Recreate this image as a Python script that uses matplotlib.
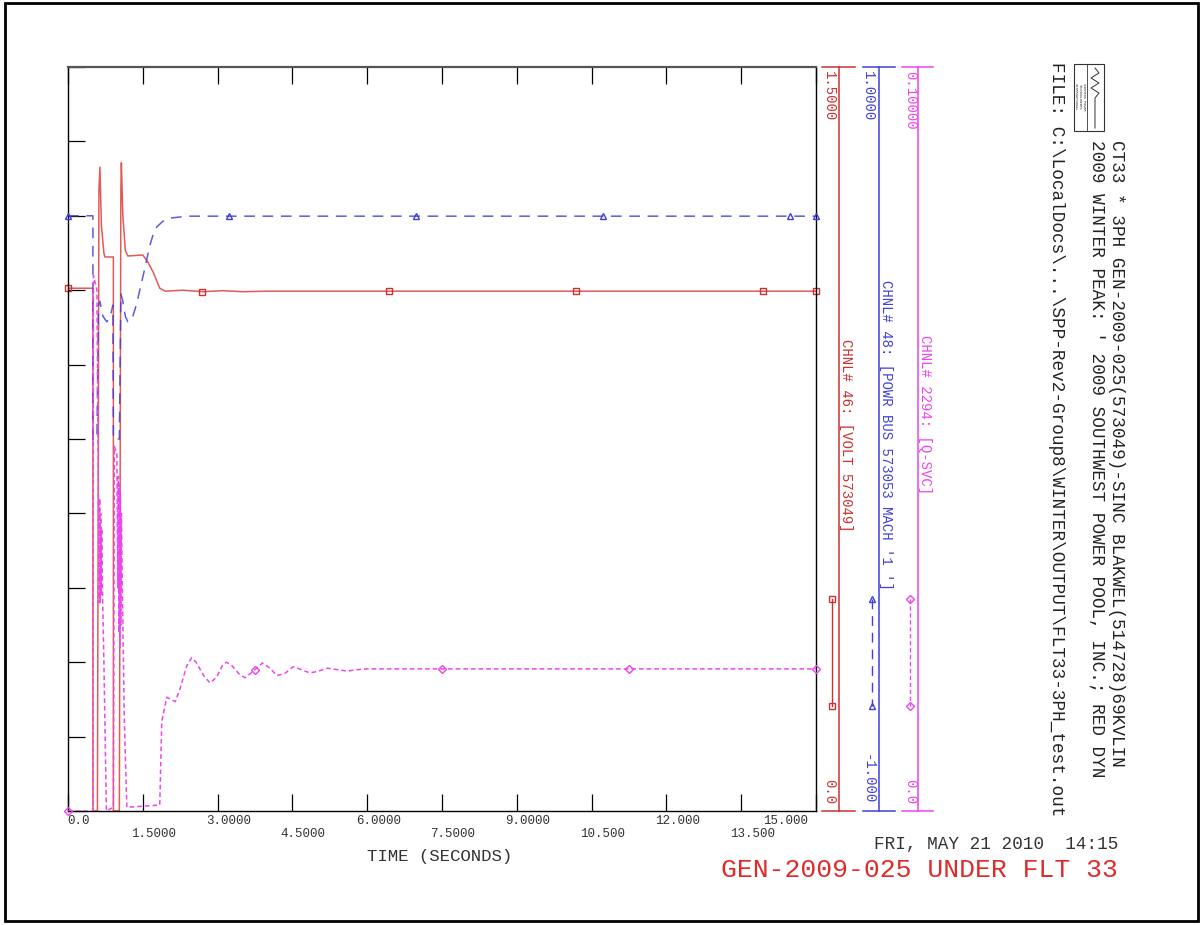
import numpy as np
import matplotlib
matplotlib.use("Agg")
import matplotlib.pyplot as plt
from matplotlib.patches import Rectangle
from matplotlib import transforms

plt.rcParams["font.family"] = ["Liberation Mono", "DejaVu Sans Mono"]

W, H = 1202, 925

# time axis (seconds)
x_ticks = [0, 1.5, 3, 4.5, 6, 7.5, 9, 10.5, 12, 13.5, 15]
x_tick_labels = ["0.0", "1.5000", "3.0000", "4.5000", "6.0000", "7.5000",
                 "9.0000", "10.500", "12.000", "13.500", "15.000"]

# CHNL# 46: [VOLT 573049]   scale 0.0 .. 1.5
volt_t = [0, 0.5, 0.5, 0.59, 0.62, 0.64, 0.67, 0.72, 0.74, 0.91, 0.91, 1.03,
          1.06, 1.07, 1.10, 1.15, 1.2, 1.5, 1.6, 1.71, 1.84, 1.95, 2.3, 2.7,
          3.1, 3.5, 4.0, 15]
volt_v = [1.054, 1.054, 0.0, 0.0, 1.25, 1.298, 1.18, 1.125, 1.117, 1.117, 0.0,
          0.0, 1.25, 1.307, 1.20, 1.13, 1.119, 1.121, 1.107, 1.086, 1.054,
          1.048, 1.050, 1.047, 1.049, 1.047, 1.048, 1.048]
volt_marks = [0, 2.69, 6.44, 10.19, 13.94, 15]

# CHNL# 48: [POWR BUS 573053 MACH '1 ']   scale -1.0 .. 1.0
powr_t = [0, 0.5, 0.5, 0.58, 0.61, 0.64, 0.70, 0.78, 0.85, 0.9, 0.91, 1.03,
          1.06, 1.1, 1.15, 1.2, 1.25, 1.3, 1.37, 1.44, 1.56, 1.64, 1.72, 1.78,
          1.9, 2.05, 2.4, 15]
powr_v = [0.60, 0.60, 0.0, 0.0, 0.36, 0.37, 0.33, 0.315, 0.33, 0.36, 0.0, 0.0,
          0.39, 0.37, 0.33, 0.315, 0.318, 0.33, 0.36, 0.40, 0.47, 0.52, 0.555,
          0.57, 0.585, 0.594, 0.599, 0.599]
powr_marks = [0, 3.23, 6.98, 10.73, 14.48, 15]

# CHNL# 2294: [Q-SVC]   scale 0.0 .. 0.1
qsvc_t = [0, 0.5, 0.51, 0.58, 0.61, 0.625, 0.635, 0.645, 0.655, 0.665, 0.675,
          0.69, 0.72, 0.77, 0.91, 0.93, 0.98, 1.0, 1.01, 1.02, 1.03, 1.04,
          1.05, 1.06, 1.07, 1.09, 1.13, 1.18, 1.84, 1.88, 1.98, 2.06, 2.15,
          2.25, 2.38, 2.48, 2.57, 2.72, 2.85, 2.98, 3.1, 3.18, 3.28, 3.42,
          3.55, 3.68, 3.9, 4.05, 4.19, 4.35, 4.52, 4.68, 4.85, 5.02, 5.2,
          5.4, 5.6, 5.8, 6.0, 15]
qsvc_v = [0, 0, 0.072, 0.070, 0.042, 0.028, 0.042, 0.028, 0.040, 0.029, 0.038,
          0.030, 0.020, 0.0, 0.0005, 0.049, 0.048, 0.030, 0.045, 0.024, 0.044,
          0.022, 0.043, 0.025, 0.040, 0.030, 0.012, 0.0005, 0.0008, 0.012,
          0.0153, 0.0150, 0.0147, 0.0165, 0.0195, 0.0206, 0.0200, 0.0182,
          0.0172, 0.0180, 0.0196, 0.0200, 0.0196, 0.0185, 0.0179, 0.0186,
          0.0199, 0.0192, 0.0182, 0.0185, 0.0194, 0.0190, 0.01855, 0.0188,
          0.0192, 0.0190, 0.0188, 0.0190, 0.0191, 0.0191]
qsvc_marks = [0, 3.75, 7.5, 11.25, 15]

RED, RED_LINE = "#cc3030", "#e25a55"
BLUE = "#4040d8"
MAG = "#ee44ee"

fig = plt.figure(figsize=(W / 100, H / 100), dpi=100)

ax = fig.add_axes([68 / W, 1 - 811 / H, 748 / W, 744 / H])
ax.set_xlim(0, 15)
ax.set_ylim(0, 1.5)
ax.set_xticks(x_ticks)
ax.set_yticks(np.arange(11) * 0.15)
ax.tick_params(direction="in", length=12.5, width=0.9, top=True, right=True,
               labelbottom=False, labelleft=False)
for s in ax.spines.values():
    s.set_linewidth(1.0)
ax.spines["top"].set_linewidth(1.6)
ax.spines["top"].set_color("#555555")

ax2 = ax.twinx()
ax2.set_ylim(-1, 1)
ax2.set_axis_off()
ax3 = ax.twinx()
ax3.set_ylim(0, 0.1)
ax3.set_axis_off()

ax.plot(volt_t, volt_v, color=RED_LINE, lw=1.1)
ax.plot(volt_marks, np.interp(volt_marks, volt_t, volt_v), "s", mfc="none",
        mec=RED, ms=5, mew=1, clip_on=False)
ax2.plot(powr_t, powr_v, color=BLUE, lw=1.1, ls=(0, (7, 5)), alpha=0.85)
ax2.plot(powr_marks, np.interp(powr_marks, powr_t, powr_v), "^", color=BLUE,
         mfc="none", ms=5, mew=1, clip_on=False)
ax3.plot(qsvc_t, qsvc_v, color=MAG, lw=1.1, ls=(0, (3, 2)))
ax3.plot(qsvc_marks, np.interp(qsvc_marks, qsvc_t, qsvc_v), "D", color=MAG,
         mfc="none", ms=4, mew=1, clip_on=False)

# overlay in pixel coordinates for the annotations around the plot
ov = fig.add_axes([0, 0, 1, 1])
ov.set_xlim(0, W)
ov.set_ylim(H, 0)
ov.set_axis_off()

# x tick labels in two staggered rows
tr = transforms.blended_transform_factory(ax.transData, ov.transData)
for i, (t, lab) in enumerate(zip(x_ticks, x_tick_labels)):
    y = 821 if i % 2 == 0 else 834
    if t == 15:
        ax.text(t - 0.16, y, lab, transform=tr, ha="right", va="center", fontsize=9, color="#333333")
    else:
        ax.text(t + 0.22, y, lab, transform=tr, ha="center", va="center", fontsize=9, color="#333333")
ov.text(440, 857, "TIME (SECONDS)", ha="center", va="center", fontsize=12.5, color="#333333")

# channel scales on the right
scales = [
    (839, 822, 855, RED, "1.5000", "0.0", 829, "CHNL# 46: [VOLT 573049]", 846, 435, 832, "-", "s"),
    (879, 863, 895, BLUE, "1.0000", "-1.000", 868, "CHNL# 48: [POWR BUS 573053 MACH '1 ']", 886, 435, 872, (0, (7, 5)), "^"),
    (918, 902, 933, MAG, "0.10000", "0.0", 910, "CHNL# 2294: [Q-SVC]", 925, 415, 910, (0, (3, 2)), "D"),
]
for lx, c0, c1, col, top, bot, tx, name, nx, ny, sx, ls, mk in scales:
    ov.plot([lx, lx], [67, 811], color=col, lw=1.1)
    ov.plot([c0, c1], [67, 67], color=col, lw=1.1)
    ov.plot([c0, c1], [811, 811], color=col, lw=1.1)
    ov.text(tx, 71, top, rotation=-90, ha="center", va="top", color=col, fontsize=10)
    ov.text(tx, 804, bot, rotation=-90, ha="center", va="bottom", color=col, fontsize=10)
    ov.text(nx, ny, name, rotation=-90, ha="center", va="center", color=col, fontsize=10)
    ov.plot([sx, sx], [599, 706], color=col, lw=1, ls=ls)
    ov.plot([sx, sx], [599, 706], mk, color=col, mfc="none", ms=4, mew=1, ls="none")

# header block
ov.text(1116, 140, "CT33 * 3PH GEN-2009-025(573049)-SINC BLAKWEL(514728)69KVLIN",
        rotation=-90, ha="center", va="top", fontsize=12.7, color="#222222")
ov.text(1097, 140, "2009 WINTER PEAK: ' 2009 SOUTHWEST POWER POOL, INC.; RED DYN",
        rotation=-90, ha="center", va="top", fontsize=12.7, color="#222222")
ov.text(1057, 62, "FILE: C:\\LocalDocs\\...\\SPP-Rev2-Group8\\WINTER\\OUTPUT\\FLT33-3PH_test.out",
        rotation=-90, ha="center", va="top", fontsize=12.7, color="#222222")

# logo
ov.add_patch(Rectangle((1074, 64), 30, 67, fill=False, lw=0.8, ec="#333333"))
ov.plot([1087, 1087], [64, 131], color="#333333", lw=0.6)
ov.plot([1095, 1099, 1091, 1099, 1091, 1099, 1095, 1095],
        [68, 73, 78, 83, 88, 93, 98, 128], color="#333333", lw=0.7)
ov.text(1080, 97, "SIEMENS POWER\nTECHNOLOGIES\nINTERNATIONAL", rotation=-90,
        ha="center", va="center", fontsize=2.6, color="#333333", linespacing=1.0)

# date and title
ov.text(1118, 845, "FRI, MAY 21 2010  14:15", ha="right", va="center",
        fontsize=12.7, color="#333333")
ov.text(1118, 870, "GEN-2009-025 UNDER FLT 33", ha="right", va="center",
        fontsize=19, color="#e02a2a")

# page frame
ov.add_patch(Rectangle((5, 3), 1193, 918, fill=False, lw=2, ec="black"))

fig.savefig("out.png", dpi=100)
